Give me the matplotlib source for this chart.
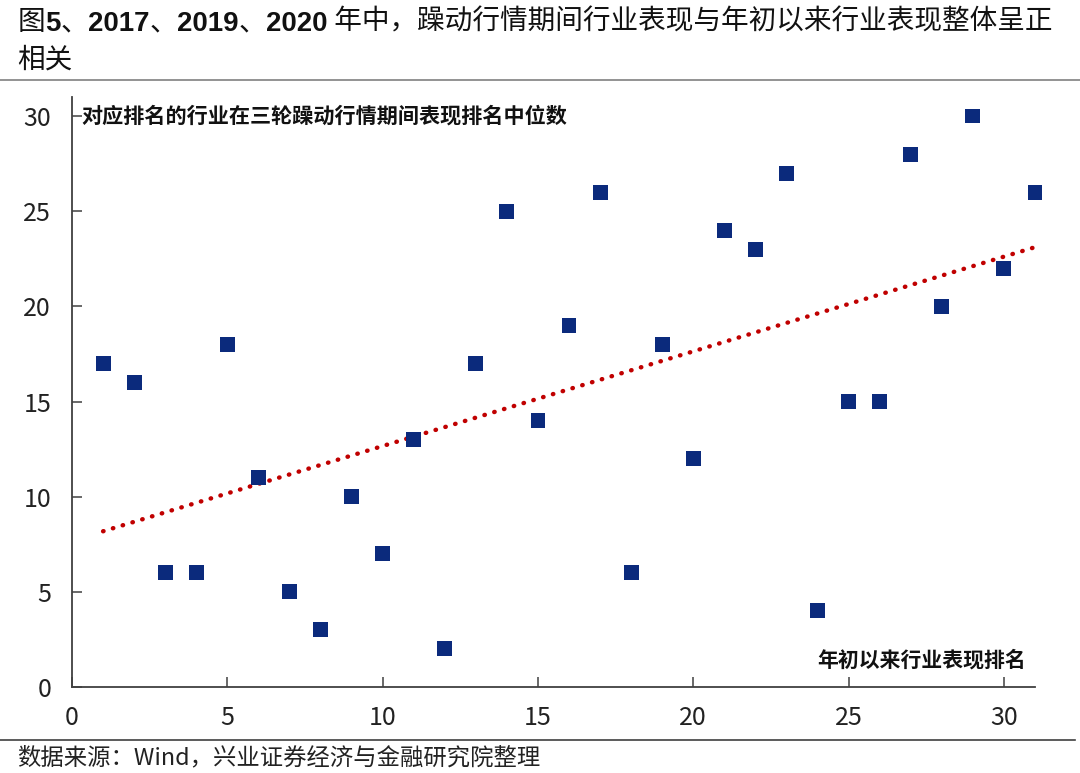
import numpy as np
import matplotlib.pyplot as plt
from matplotlib.lines import Line2D

plt.rcParams['font.family'] = ['Noto Sans CJK SC', 'DejaVu Sans']

# x: 年初以来行业表现排名, y: 三轮躁动行情期间表现排名中位数
x_rank = [1, 2, 3, 4, 5, 6, 7, 8, 9, 10, 11, 12, 13, 14, 15, 16,
          17, 18, 19, 20, 21, 22, 23, 24, 25, 26, 27, 28, 29, 30, 31]
y_rank = [17, 16, 6, 6, 18, 11, 5, 3, 10, 7, 13, 2, 17, 25, 14, 19,
          26, 6, 18, 12, 24, 23, 27, 4, 15, 15, 28, 20, 30, 22, 26]
x_ticks = [0, 5, 10, 15, 20, 25, 30]
y_ticks = [0, 5, 10, 15, 20, 25, 30]

# title pieces: (text, bold digits?)
title_parts = [("图", False), ("5", True), ("、", False), ("2017", True),
               ("、", False), ("2019", True), ("、", False), ("2020", True),
               (" 年中，躁动行情期间行业表现与年初以来行业表现整体呈正", False)]
title_line2 = "相关"
source = "数据来源：Wind，兴业证券经济与金融研究院整理"

fig = plt.figure(figsize=(10.8, 7.73), dpi=100)
ax = fig.add_axes([0.0667, 0.1113, 0.8916, 0.7632])

ax.scatter(x_rank, y_rank, marker='s', s=115, color='#0B2A7C', zorder=3,
           edgecolors='none', clip_on=False)

# linear trend line
k, b = np.polyfit(x_rank, y_rank, 1)
xs = np.array([min(x_rank), max(x_rank)])
ax.plot(xs, k * xs + b, color='#C00000', linestyle=(0, (0.1, 2.2)),
        linewidth=3.2, dash_capstyle='round', zorder=2)

ax.set_xlim(0, 31)
ax.set_ylim(0, 31)
ax.set_xticks(x_ticks)
ax.set_yticks(y_ticks)
for s in ['top', 'right']:
    ax.spines[s].set_visible(False)
for s in ['left', 'bottom']:
    ax.spines[s].set_color('#404040')
    ax.spines[s].set_linewidth(1.3)
ax.tick_params(direction='in', length=7, width=1.1, color='#404040',
               labelsize=18, colors='#222222')
ax.tick_params(axis='y', pad=15)
ax.tick_params(axis='x', pad=13)

ax.text(0.3, 30, "对应排名的行业在三轮躁动行情期间表现排名中位数", fontsize=15.2,
        fontweight='bold', va='center', ha='left', color='#111111')
ax.text(30.7, 1.4, "年初以来行业表现排名", fontsize=15, fontweight='bold',
        va='center', ha='right', color='#111111')

# title line 1, piece by piece so the digits can be bold
prev = None
for txt, bold in title_parts:
    kw = dict(fontsize=19.9, color='#111111', va='baseline', ha='left')
    if bold:
        kw.update(fontweight='bold', family=['Liberation Sans', 'DejaVu Sans'])
    if prev is None:
        prev = fig.text(0.016, 1 - 30 / 773, txt, **kw)
    else:
        prev = ax.annotate(txt, xy=(1, 0), xycoords=prev, annotation_clip=False, **kw)
        prev.set_va('bottom')
fig.text(0.016, 1 - 68 / 773, title_line2, fontsize=19.9, color='#111111',
         va='baseline', ha='left')

fig.add_artist(Line2D([0, 1], [1 - 80 / 773, 1 - 80 / 773], color='#808080',
                      linewidth=1.2, transform=fig.transFigure))
fig.add_artist(Line2D([0, 0.995], [1 - 740 / 773, 1 - 740 / 773], color='#404040',
                      linewidth=1.2, transform=fig.transFigure))
fig.text(0.016, 1 - 758 / 773, source, fontsize=16.8, va='center', ha='left',
         color='#222222')

fig.savefig('out.png', dpi=100)
